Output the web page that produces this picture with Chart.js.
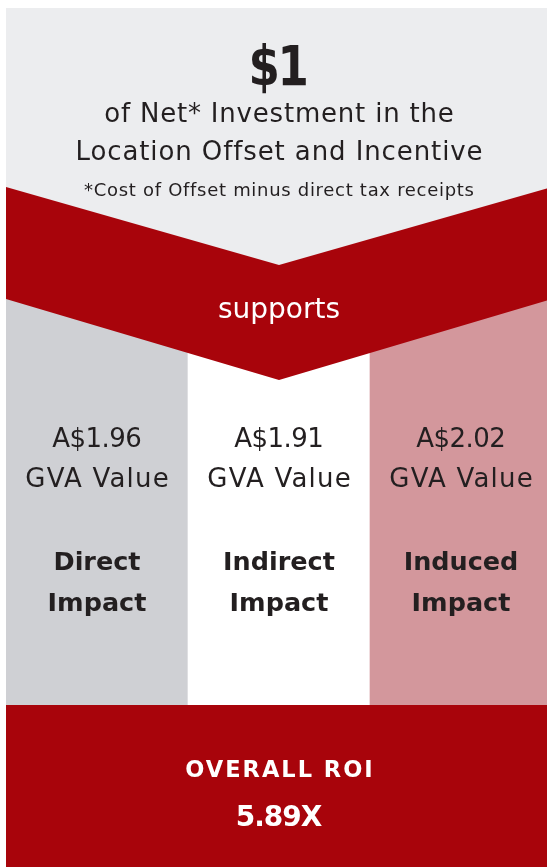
<!DOCTYPE html>
<html>
<head>
<meta charset="utf-8">
<script src="https://cdn.jsdelivr.net/npm/chart.js@4.4.1/dist/chart.umd.min.js"></script>
<style>
html, body { margin: 0; padding: 0; background: #fff; overflow: hidden; }
#wrap { position: relative; width: 552px; height: 867px; }
</style>
</head>
<body>
<div id="wrap"><canvas id="roi-chart"></canvas></div>
<script>
const netInvestment = [1];
const headlineLines = ['of Net* Investment in the', 'Location Offset and Incentive'];
const footnote = ['*Cost of Offset minus direct tax receipts'];
const linkWord = ['supports'];
const categories = [['Direct', 'Impact'], ['Indirect', 'Impact'], ['Induced', 'Impact']];
const gvaValues = [1.96, 1.91, 2.02];
const valueUnit = ['GVA Value'];
const roiLabel = ['OVERALL ROI'];

const FONT = '"DejaVu Sans", sans-serif';
const RED = '#a8040b';
const DARK = '#231f20';
const columnColors = ['#cfd0d4', '#ffffff', '#d3979c'];

// centred text; spacing is letter spacing in px, sx squeezes horizontally
function text(ctx, str, x, y, size, weight, color, spacing = 0, sx = 1) {
    ctx.save();
    ctx.font = weight + ' ' + size + 'px ' + FONT;
    ctx.fillStyle = color;
    ctx.textAlign = 'center';
    ctx.textBaseline = 'alphabetic';
    ctx.letterSpacing = spacing + 'px';
    ctx.translate(x + spacing / 2, y);
    ctx.scale(sx, 1);
    ctx.fillText(str, 0, 0);
    ctx.restore();
}

const infographicPlugin = {
    id: 'infographic',
    beforeDatasetsDraw(chart) {
        const ctx = chart.ctx;
        const area = chart.chartArea;
        ctx.save();
        ctx.fillStyle = '#ecedef';
        ctx.fillRect(area.left, 8, area.right - area.left, area.top - 8);
        ctx.restore();
    },
    afterDatasetsDraw(chart) {
        const ctx = chart.ctx;
        const area = chart.chartArea;
        const mid = (area.left + area.right) / 2;
        const xs = chart.scales.x;
        ctx.save();

        // chevron
        ctx.fillStyle = RED;
        ctx.beginPath();
        ctx.moveTo(area.left, 187);
        ctx.lineTo(mid, 265);
        ctx.lineTo(area.right, 187);
        ctx.lineTo(area.right, area.top);
        ctx.lineTo(mid, 380);
        ctx.lineTo(area.left, area.top);
        ctx.closePath();
        ctx.fill();

        // bottom band
        ctx.fillRect(area.left, area.bottom, area.right - area.left, chart.height - area.bottom);

        // header
        text(ctx, '$' + netInvestment[0], mid, 85, 55, 'bold', DARK, -3, 0.82);
        text(ctx, headlineLines[0], mid, 122, 26, 'normal', DARK, 0.8);
        text(ctx, headlineLines[1], mid, 160, 26, 'normal', DARK, 0.9);
        text(ctx, footnote[0], mid, 196, 18, 'normal', DARK, 0.7);
        text(ctx, linkWord[0], mid, 318, 28, 'normal', '#ffffff');

        // columns
        categories.forEach((lines, i) => {
            const x = xs.getPixelForValue(i);
            text(ctx, 'A$' + gvaValues[i].toFixed(2), x, 447, 26, 'normal', DARK, -0.5);
            text(ctx, valueUnit[0], x, 487, 26, 'normal', DARK, 1.2);
            text(ctx, lines[0], x, 570, 25.5, 'bold', DARK);
            text(ctx, lines[1], x, 611, 25.5, 'bold', DARK);
        });

        // overall ROI
        const total = gvaValues.reduce((a, b) => a + b, 0);
        text(ctx, roiLabel[0], mid, 777, 22.5, 'bold', '#ffffff', 2);
        text(ctx, total.toFixed(2) + 'X', mid, 826, 28, 'bold', '#ffffff', -1);

        ctx.restore();
    }
};

const canvas = document.getElementById('roi-chart');
const roiChart = new Chart(canvas.getContext('2d'), {
    type: 'bar',
    data: {
        labels: categories.map(c => c.join(' ')),
        datasets: [{
            label: 'GVA Value',
            data: categories.map(() => [0, 1]),
            backgroundColor: columnColors,
            borderWidth: 0,
            barPercentage: 1,
            categoryPercentage: 1
        }]
    },
    options: {
        responsive: true,
        maintainAspectRatio: false,
        animation: false,
        events: [],
        layout: {
            padding: { left: 6, right: 0, top: 299, bottom: 162 }
        },
        plugins: {
            legend: { display: false },
            tooltip: { enabled: false }
        },
        scales: {
            x: { display: false, offset: true, grid: { display: false } },
            y: { display: false, min: 0, max: 1, grid: { display: false } }
        }
    },
    plugins: [infographicPlugin]
});
</script>
</body>
</html>
